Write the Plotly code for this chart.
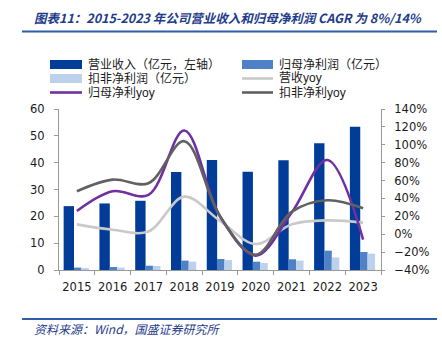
import plotly.graph_objects as go

years = ["2015", "2016", "2017", "2018", "2019", "2020", "2021", "2022", "2023"]
revenue = [23.8, 24.8, 25.8, 36.5, 41.0, 36.6, 40.9, 47.2, 53.4]
net_profit = [0.9, 1.1, 1.6, 3.5, 4.1, 3.1, 4.0, 7.2, 6.7]
deducted_profit = [0.5, 0.9, 1.5, 3.1, 3.7, 2.6, 3.5, 4.7, 6.1]
revenue_yoy = [11, 5, 3, 42, 15, -11, 11, 15.5, 13]
net_profit_yoy = [26, 48, 44, 116, 20, -24, 24, 83, -6]
deducted_yoy = [48, 61, 57, 104, 20, -23, 25, 38, 29]

names = ["营业收入（亿元，左轴）", "归母净利润（亿元）", "扣非净利润（亿元）",
         "营收yoy", "归母净利yoy", "扣非净利yoy"]
colors = ["#003C98", "#4F81C6", "#BED1EC", "#C9C9C9", "#7030A0", "#616161"]

W, H = 442, 344
L, R, T, B = 59, 381, 109, 270

fig = go.Figure()
fig.add_trace(go.Bar(x=years, y=revenue, name=names[0], marker_color=colors[0],
                     width=0.29, offset=-0.37, marker_line_width=0))
fig.add_trace(go.Bar(x=years, y=net_profit, name=names[1], marker_color=colors[1],
                     width=0.21, offset=-0.085, marker_line_width=0))
fig.add_trace(go.Bar(x=years, y=deducted_profit, name=names[2], marker_color=colors[2],
                     width=0.21, offset=0.125, marker_line_width=0))
for vals, nm, c in [(revenue_yoy, names[3], colors[3]),
                    (net_profit_yoy, names[4], colors[4]),
                    (deducted_yoy, names[5], colors[5])]:
    fig.add_trace(go.Scatter(x=years, y=vals, name=nm, yaxis="y2", mode="lines",
                             line=dict(color=c, width=2.6, shape="spline", smoothing=1.0)))

tick_font = dict(family="DejaVu Sans", size=11.5, color="#1a1a1a")
fig.update_layout(
    width=W, height=H,
    margin=dict(l=L, r=W - R, t=T, b=H - B, pad=0),
    paper_bgcolor="white", plot_bgcolor="white",
    showlegend=False,
    barmode="overlay",
    xaxis=dict(showline=True, linecolor="#999999", linewidth=1, ticks="outside",
               tickson="boundaries", ticklen=4, tickcolor="#999999", tickangle=0,
               ticklabelstandoff=6, tickfont=tick_font, showgrid=False),
    yaxis=dict(range=[0, 60], dtick=10, showline=True, linecolor="#999999",
               ticks="outside", ticklen=4, tickcolor="#999999", tickfont=tick_font,
               ticklabelstandoff=7, showgrid=False, zeroline=False),
    yaxis2=dict(range=[-40, 140], dtick=20, overlaying="y", side="right",
                showline=True, linecolor="#999999", ticks="outside", ticklen=3,
                tickcolor="#999999", ticksuffix="%", tickfont=tick_font,
                ticklabelstandoff=7, showgrid=False, zeroline=False),
)

def px_x(p):
    return (p - L) / (R - L)

def px_y(p):
    return (B - p) / (B - T)

shapes = []
annotations = []
# title and rules
annotations.append(dict(text="<b><i>图表11：2015-2023 年公司营业收入和归母净利润 CAGR 为 8%/14%</i></b>",
                        xref="paper", yref="paper", x=px_x(32), y=px_y(17),
                        xanchor="left", yanchor="middle", showarrow=False,
                        font=dict(family="Noto Sans CJK SC", size=12.5, color="#1F3C8C")))
shapes.append(dict(type="line", xref="paper", yref="paper", x0=px_x(22), x1=px_x(437),
                   y0=px_y(31.5), y1=px_y(31.5), line=dict(color="#2F5DA6", width=2)))
shapes.append(dict(type="line", xref="paper", yref="paper", x0=px_x(22), x1=px_x(437),
                   y0=px_y(319), y1=px_y(319), line=dict(color="#2F5DA6", width=2)))
annotations.append(dict(text="<i>资料来源：Wind，国盛证券研究所</i>",
                        xref="paper", yref="paper", x=px_x(32), y=px_y(328),
                        xanchor="left", yanchor="middle", showarrow=False,
                        font=dict(family="Noto Sans CJK SC", size=12, color="#1F3C8C")))

# manual legend
cols = [(50, 82, 86), (242, 273, 277)]
rows = [64.5, 78.5, 92.5]
for i, (nm, c) in enumerate(zip(names, colors)):
    r, k = divmod(i, 2)
    x0, x1, xt = cols[k]
    yc = rows[r]
    if i < 3:
        shapes.append(dict(type="rect", xref="paper", yref="paper",
                           x0=px_x(x0), x1=px_x(x1), y0=px_y(yc - 4.5), y1=px_y(yc + 4.5),
                           fillcolor=c, line=dict(width=0)))
    else:
        shapes.append(dict(type="line", xref="paper", yref="paper",
                           x0=px_x(x0), x1=px_x(x1), y0=px_y(yc), y1=px_y(yc),
                           line=dict(color=c, width=2.6)))
    annotations.append(dict(text=nm, xref="paper", yref="paper", x=px_x(xt), y=px_y(yc),
                            xanchor="left", yanchor="middle", showarrow=False,
                            font=dict(family="Liberation Sans, Noto Sans CJK SC", size=12,
                                      color="#1a1a1a")))

fig.update_layout(shapes=shapes, annotations=annotations)
fig.write_html("out.html")
